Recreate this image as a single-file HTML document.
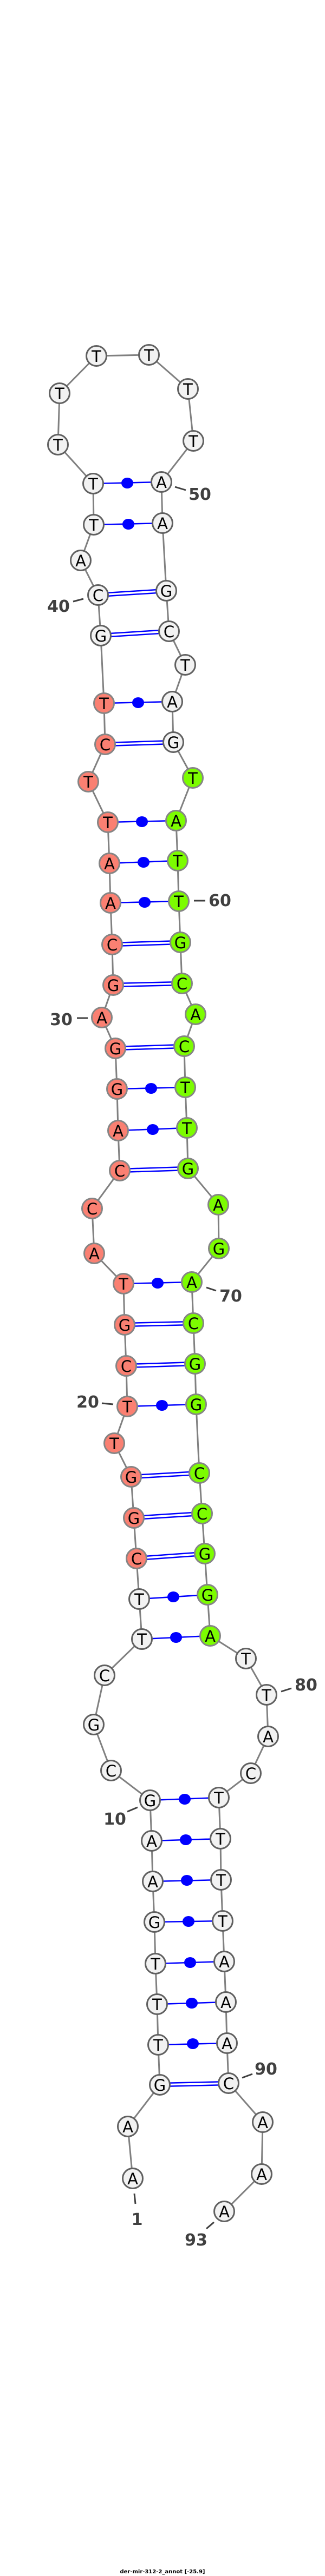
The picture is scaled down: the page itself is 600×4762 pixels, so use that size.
<!DOCTYPE html>
<html><head><meta charset="utf-8"><style>
html,body{margin:0;padding:0;background:#fff;}
svg{display:block;}
.n{stroke-width:3;}
.w{fill:#f2f2f2;stroke:#606060;}
.r{fill:#fa8072;stroke:#858585;}
.g{fill:#7cfc00;stroke:#858585;}
.t{font-family:"DejaVu Sans","Liberation Sans",sans-serif;font-size:29px;text-anchor:middle;fill:#000;}
.l{font-family:"DejaVu Sans","Liberation Sans",sans-serif;font-size:30px;font-weight:bold;fill:#404040;text-anchor:middle;}
.p{stroke:#0000ff;stroke-width:2.5;}
.k{stroke:#404040;stroke-width:3;}
</style></head><body>
<svg width="600" height="4762" xmlns="http://www.w3.org/2000/svg">
<polyline fill="none" stroke="#808080" stroke-width="3" points="245,4027 236,3931 295,3854 292,3780 290,3705 287,3630 285,3553 282,3478 280,3403 277,3328 205,3273 173,3188 193,3097 262,3030 257,2956 252,2881 247,2806 242,2730 211,2668 235,2600 233,2525 230,2449 228,2373 174,2317 170,2234 221,2164 218,2090 216,2013 213,1938 188,1881 209,1821 207,1746 204,1669 202,1596 199,1520 163,1445 194,1376 192,1300 186,1175 181,1100 149,1036 173,970 172,894 107,822 110,727 178,658 275,656 347,719 357,815 298,891 300,967 307,1092 312,1167 342,1229 318,1297 320,1372 356,1438 325,1517 328,1591 330,1666 333,1742 336,1818 361,1875 340,1934 342,2010 345,2085 347,2160 403,2227 404,2308 354,2370 357,2446 360,2521 362,2596 368,2723 373,2798 378,2872 383,2948 388,3024 454,3066 492,3133 495,3210 463,3278 404,3323 407,3399 408,3475 411,3551 414,3626 417,3701 419,3777 422,3851 485,3923 483,4019 414,4088"/>
<g class="p">
<!-- double (GC) -->
<line x1="295" y1="3851" x2="422" y2="3848"/><line x1="295" y1="3857" x2="422" y2="3854"/>
<line x1="252" y1="2878" x2="378" y2="2869"/><line x1="252" y1="2884" x2="378" y2="2875"/>
<line x1="247" y1="2803" x2="373" y2="2795"/><line x1="247" y1="2809" x2="373" y2="2801"/>
<line x1="242" y1="2727" x2="368" y2="2720"/><line x1="242" y1="2733" x2="368" y2="2726"/>
<line x1="233" y1="2522" x2="360" y2="2518"/><line x1="233" y1="2528" x2="360" y2="2524"/>
<line x1="230" y1="2446" x2="357" y2="2443"/><line x1="230" y1="2452" x2="357" y2="2449"/>
<line x1="221" y1="2161" x2="347" y2="2157"/><line x1="221" y1="2167" x2="347" y2="2163"/>
<line x1="213" y1="1935" x2="340" y2="1931"/><line x1="213" y1="1941" x2="340" y2="1937"/>
<line x1="209" y1="1818" x2="336" y2="1815"/><line x1="209" y1="1824" x2="336" y2="1821"/>
<line x1="207" y1="1743" x2="333" y2="1739"/><line x1="207" y1="1749" x2="333" y2="1745"/>
<line x1="194" y1="1373" x2="320" y2="1369"/><line x1="194" y1="1379" x2="320" y2="1375"/>
<line x1="186" y1="1172" x2="312" y2="1164"/><line x1="186" y1="1178" x2="312" y2="1170"/>
<line x1="181" y1="1097" x2="307" y2="1089"/><line x1="181" y1="1103" x2="307" y2="1095"/>
<!-- single -->
<line x1="292" y1="3780" x2="419" y2="3777"/><line x1="290" y1="3705" x2="417" y2="3701"/>
<line x1="287" y1="3630" x2="414" y2="3626"/><line x1="285" y1="3553" x2="411" y2="3551"/>
<line x1="282" y1="3478" x2="408" y2="3475"/><line x1="280" y1="3403" x2="407" y2="3399"/>
<line x1="277" y1="3328" x2="404" y2="3323"/>
<line x1="262" y1="3030" x2="388" y2="3024"/><line x1="257" y1="2956" x2="383" y2="2948"/>
<line x1="235" y1="2600" x2="362" y2="2596"/><line x1="228" y1="2373" x2="354" y2="2370"/>
<line x1="218" y1="2090" x2="345" y2="2085"/><line x1="216" y1="2013" x2="342" y2="2010"/>
<line x1="204" y1="1669" x2="330" y2="1666"/><line x1="202" y1="1596" x2="328" y2="1591"/>
<line x1="199" y1="1520" x2="325" y2="1517"/><line x1="192" y1="1300" x2="318" y2="1297"/>
<line x1="173" y1="970" x2="300" y2="967"/><line x1="172" y1="894" x2="298" y2="891"/>
</g>
<g fill="#0000ff">
<ellipse cx="356" cy="3778" rx="11" ry="10"/><ellipse cx="354" cy="3703" rx="11" ry="10"/>
<ellipse cx="351" cy="3628" rx="11" ry="10"/><ellipse cx="348" cy="3552" rx="11" ry="10"/>
<ellipse cx="345" cy="3476" rx="11" ry="10"/><ellipse cx="343" cy="3401" rx="11" ry="10"/>
<ellipse cx="341" cy="3326" rx="11" ry="10"/>
<ellipse cx="325" cy="3027" rx="11" ry="10"/><ellipse cx="320" cy="2952" rx="11" ry="10"/>
<ellipse cx="299" cy="2598" rx="11" ry="10"/><ellipse cx="291" cy="2372" rx="11" ry="10"/>
<ellipse cx="282" cy="2088" rx="11" ry="10"/><ellipse cx="279" cy="2012" rx="11" ry="10"/>
<ellipse cx="267" cy="1668" rx="11" ry="10"/><ellipse cx="265" cy="1594" rx="11" ry="10"/>
<ellipse cx="262" cy="1519" rx="11" ry="10"/><ellipse cx="255" cy="1299" rx="11" ry="10"/>
<ellipse cx="237" cy="969" rx="11" ry="10"/><ellipse cx="235" cy="893" rx="11" ry="10"/>
</g>
<g class="n">
<circle class="w" cx="245" cy="4027" r="18.5"/><circle class="w" cx="236" cy="3931" r="18.5"/>
<circle class="w" cx="295" cy="3854" r="18.5"/><circle class="w" cx="292" cy="3780" r="18.5"/>
<circle class="w" cx="290" cy="3705" r="18.5"/><circle class="w" cx="287" cy="3630" r="18.5"/>
<circle class="w" cx="285" cy="3553" r="18.5"/><circle class="w" cx="282" cy="3478" r="18.5"/>
<circle class="w" cx="280" cy="3403" r="18.5"/><circle class="w" cx="277" cy="3328" r="18.5"/>
<circle class="w" cx="205" cy="3273" r="18.5"/><circle class="w" cx="173" cy="3188" r="18.5"/>
<circle class="w" cx="193" cy="3097" r="18.5"/><circle class="w" cx="262" cy="3030" r="18.5"/>
<circle class="w" cx="257" cy="2956" r="18.5"/>
<circle class="r" cx="252" cy="2881" r="18.5"/><circle class="r" cx="247" cy="2806" r="18.5"/>
<circle class="r" cx="242" cy="2730" r="18.5"/><circle class="r" cx="211" cy="2668" r="18.5"/>
<circle class="r" cx="235" cy="2600" r="18.5"/><circle class="r" cx="233" cy="2525" r="18.5"/>
<circle class="r" cx="230" cy="2449" r="18.5"/><circle class="r" cx="228" cy="2373" r="18.5"/>
<circle class="r" cx="174" cy="2317" r="18.5"/><circle class="r" cx="170" cy="2234" r="18.5"/>
<circle class="r" cx="221" cy="2164" r="18.5"/><circle class="r" cx="218" cy="2090" r="18.5"/>
<circle class="r" cx="216" cy="2013" r="18.5"/><circle class="r" cx="213" cy="1938" r="18.5"/>
<circle class="r" cx="188" cy="1881" r="18.5"/><circle class="r" cx="209" cy="1821" r="18.5"/>
<circle class="r" cx="207" cy="1746" r="18.5"/><circle class="r" cx="204" cy="1669" r="18.5"/>
<circle class="r" cx="202" cy="1596" r="18.5"/><circle class="r" cx="199" cy="1520" r="18.5"/>
<circle class="r" cx="163" cy="1445" r="18.5"/><circle class="r" cx="194" cy="1376" r="18.5"/>
<circle class="r" cx="192" cy="1300" r="18.5"/>
<circle class="w" cx="186" cy="1175" r="18.5"/><circle class="w" cx="181" cy="1100" r="18.5"/>
<circle class="w" cx="149" cy="1036" r="18.5"/><circle class="w" cx="173" cy="970" r="18.5"/>
<circle class="w" cx="172" cy="894" r="18.5"/><circle class="w" cx="107" cy="822" r="18.5"/>
<circle class="w" cx="110" cy="727" r="18.5"/><circle class="w" cx="178" cy="658" r="18.5"/>
<circle class="w" cx="275" cy="656" r="18.5"/><circle class="w" cx="347" cy="719" r="18.5"/>
<circle class="w" cx="357" cy="815" r="18.5"/><circle class="w" cx="298" cy="891" r="18.5"/>
<circle class="w" cx="300" cy="967" r="18.5"/><circle class="w" cx="307" cy="1092" r="18.5"/>
<circle class="w" cx="312" cy="1167" r="18.5"/><circle class="w" cx="342" cy="1229" r="18.5"/>
<circle class="w" cx="318" cy="1297" r="18.5"/><circle class="w" cx="320" cy="1372" r="18.5"/>
<circle class="g" cx="356" cy="1438" r="18.5"/><circle class="g" cx="325" cy="1517" r="18.5"/>
<circle class="g" cx="328" cy="1591" r="18.5"/><circle class="g" cx="330" cy="1666" r="18.5"/>
<circle class="g" cx="333" cy="1742" r="18.5"/><circle class="g" cx="336" cy="1818" r="18.5"/>
<circle class="g" cx="361" cy="1875" r="18.5"/><circle class="g" cx="340" cy="1934" r="18.5"/>
<circle class="g" cx="342" cy="2010" r="18.5"/><circle class="g" cx="345" cy="2085" r="18.5"/>
<circle class="g" cx="347" cy="2160" r="18.5"/><circle class="g" cx="403" cy="2227" r="18.5"/>
<circle class="g" cx="404" cy="2308" r="18.5"/><circle class="g" cx="354" cy="2370" r="18.5"/>
<circle class="g" cx="357" cy="2446" r="18.5"/><circle class="g" cx="360" cy="2521" r="18.5"/>
<circle class="g" cx="362" cy="2596" r="18.5"/><circle class="g" cx="368" cy="2723" r="18.5"/>
<circle class="g" cx="373" cy="2798" r="18.5"/><circle class="g" cx="378" cy="2872" r="18.5"/>
<circle class="g" cx="383" cy="2948" r="18.5"/><circle class="g" cx="388" cy="3024" r="18.5"/>
<circle class="w" cx="454" cy="3066" r="18.5"/><circle class="w" cx="492" cy="3133" r="18.5"/>
<circle class="w" cx="495" cy="3210" r="18.5"/><circle class="w" cx="463" cy="3278" r="18.5"/>
<circle class="w" cx="404" cy="3323" r="18.5"/><circle class="w" cx="407" cy="3399" r="18.5"/>
<circle class="w" cx="408" cy="3475" r="18.5"/><circle class="w" cx="411" cy="3551" r="18.5"/>
<circle class="w" cx="414" cy="3626" r="18.5"/><circle class="w" cx="417" cy="3701" r="18.5"/>
<circle class="w" cx="419" cy="3777" r="18.5"/><circle class="w" cx="422" cy="3851" r="18.5"/>
<circle class="w" cx="485" cy="3923" r="18.5"/><circle class="w" cx="483" cy="4019" r="18.5"/>
<circle class="w" cx="414" cy="4088" r="18.5"/>
</g>
<g class="t">
<text x="245" y="4038">A</text><text x="236" y="3942">A</text><text x="295" y="3865">G</text>
<text x="292" y="3791">T</text><text x="290" y="3716">T</text><text x="287" y="3641">T</text>
<text x="285" y="3564">G</text><text x="282" y="3489">A</text><text x="280" y="3414">A</text>
<text x="277" y="3339">G</text><text x="205" y="3284">C</text><text x="173" y="3199">G</text>
<text x="193" y="3108">C</text><text x="262" y="3041">T</text><text x="257" y="2967">T</text>
<text x="252" y="2892">C</text><text x="247" y="2817">G</text><text x="242" y="2741">G</text>
<text x="211" y="2679">T</text><text x="235" y="2611">T</text><text x="233" y="2536">C</text>
<text x="230" y="2460">G</text><text x="228" y="2384">T</text><text x="174" y="2328">A</text>
<text x="170" y="2245">C</text><text x="221" y="2175">C</text><text x="218" y="2101">A</text>
<text x="216" y="2024">G</text><text x="213" y="1949">G</text><text x="188" y="1892">A</text>
<text x="209" y="1832">G</text><text x="207" y="1757">C</text><text x="204" y="1680">A</text>
<text x="202" y="1607">A</text><text x="199" y="1531">T</text><text x="163" y="1456">T</text>
<text x="194" y="1387">C</text><text x="192" y="1311">T</text><text x="186" y="1186">G</text>
<text x="181" y="1111">C</text><text x="149" y="1047">A</text><text x="173" y="981">T</text>
<text x="172" y="905">T</text><text x="107" y="833">T</text><text x="110" y="738">T</text>
<text x="178" y="669">T</text><text x="275" y="667">T</text><text x="347" y="730">T</text>
<text x="357" y="826">T</text><text x="298" y="902">A</text><text x="300" y="978">A</text>
<text x="307" y="1103">G</text><text x="312" y="1178">C</text><text x="342" y="1240">T</text>
<text x="318" y="1308">A</text><text x="320" y="1383">G</text><text x="356" y="1449">T</text>
<text x="325" y="1528">A</text><text x="328" y="1602">T</text><text x="330" y="1677">T</text>
<text x="333" y="1753">G</text><text x="336" y="1829">C</text><text x="361" y="1886">A</text>
<text x="340" y="1945">C</text><text x="342" y="2021">T</text><text x="345" y="2096">T</text>
<text x="347" y="2171">G</text><text x="403" y="2238">A</text><text x="404" y="2319">G</text>
<text x="354" y="2381">A</text><text x="357" y="2457">C</text><text x="360" y="2532">G</text>
<text x="362" y="2607">G</text><text x="368" y="2734">C</text><text x="373" y="2809">C</text>
<text x="378" y="2883">G</text><text x="383" y="2959">G</text><text x="388" y="3035">A</text>
<text x="454" y="3077">T</text><text x="492" y="3144">T</text><text x="495" y="3221">A</text>
<text x="463" y="3289">C</text><text x="404" y="3334">T</text><text x="407" y="3410">T</text>
<text x="408" y="3486">T</text><text x="411" y="3562">T</text><text x="414" y="3637">A</text>
<text x="417" y="3712">A</text><text x="419" y="3788">A</text><text x="422" y="3862">C</text>
<text x="485" y="3934">A</text><text x="483" y="4030">A</text><text x="414" y="4099">A</text>
</g>
<g class="k">
<line x1="323" y1="900" x2="343" y2="906"/>
<line x1="135" y1="1112" x2="154" y2="1107"/>
<line x1="358" y1="1665" x2="379" y2="1665"/>
<line x1="142" y1="1882" x2="162" y2="1882"/>
<line x1="381" y1="2380" x2="399" y2="2386"/>
<line x1="188" y1="2594" x2="209" y2="2596"/>
<line x1="519" y1="3127" x2="538" y2="3121"/>
<line x1="235" y1="3349" x2="254" y2="3341"/>
<line x1="447" y1="3841" x2="466" y2="3834"/>
<line x1="248" y1="4055" x2="250" y2="4074"/>
<line x1="381" y1="4120" x2="395" y2="4108"/>
</g>
<g class="l">
<text x="369" y="924">50</text>
<text x="108" y="1131">40</text>
<text x="406" y="1675">60</text>
<text x="113" y="1895">30</text>
<text x="426" y="2406">70</text>
<text x="162" y="2602">20</text>
<text x="565" y="3125">80</text>
<text x="212" y="3373">10</text>
<text x="491" y="3835">90</text>
<text x="253" y="4113">1</text>
<text x="362" y="4151">93</text>
</g>
<text x="300" y="4757" font-family="'DejaVu Sans','Liberation Sans',sans-serif" font-size="10" font-weight="bold" text-anchor="middle" fill="#000">der-mir-312-2_annot [-25.9]</text>
</svg>
</body></html>
